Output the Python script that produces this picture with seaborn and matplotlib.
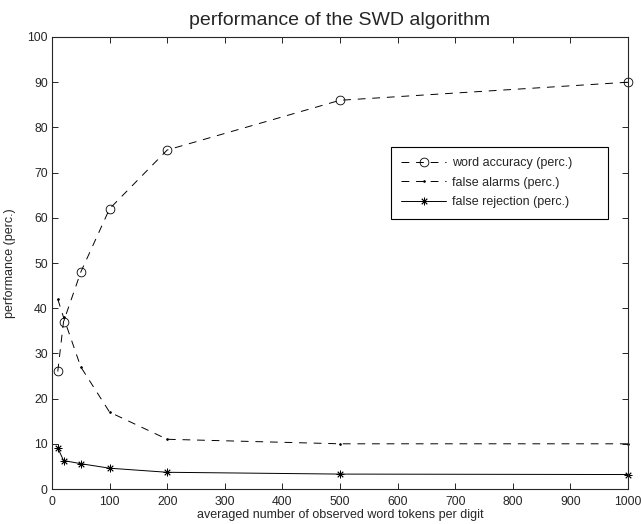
import pandas as pd
import seaborn as sns
import matplotlib.pyplot as plt

tokens = [10, 20, 50, 100, 200, 500, 1000]
word_accuracy = [26, 37, 48, 62, 75, 86, 90]
false_alarms = [42, 38, 27, 17, 11, 10, 10]
false_rejection = [9.1, 6.3, 5.6, 4.6, 3.7, 3.3, 3.2]

sns.set_style("ticks")
plt.rcParams['font.family'] = ['Liberation Sans', 'DejaVu Sans']

df = pd.DataFrame({
    'tokens': tokens * 3,
    'value': word_accuracy + false_alarms + false_rejection,
    'series': ['word accuracy (perc.)'] * 7 + ['false alarms (perc.)'] * 7
              + ['false rejection (perc.)'] * 7,
})

fig = plt.figure(figsize=(6.41, 5.24), dpi=100)
# axes box in pixels: left 52, right 628, top 37, bottom 489
ax = fig.add_axes([52 / 641, 35 / 524, 576 / 641, 452 / 524])

styles = {
    'word accuracy (perc.)': dict(ls=(0, (8, 7)), marker='o', ms=6.3, mfc='none'),
    'false alarms (perc.)': dict(ls=(0, (8, 7)), marker='.', ms=2.5),
    'false rejection (perc.)': dict(ls='-', marker=(8, 2, 0), ms=5.5),
}
for name, st in styles.items():
    sub = df[df.series == name]
    sns.lineplot(data=sub, x='tokens', y='value', ax=ax, color='black',
                 lw=0.7, linestyle=st['ls'], marker=st['marker'],
                 markersize=st['ms'], markerfacecolor=st.get('mfc', 'black'),
                 markeredgecolor='black', markeredgewidth=0.6, label=name,
                 clip_on=False)

ax.set_xlim(0, 1000)
ax.set_ylim(0, 100)
ax.set_xticks(range(0, 1001, 100))
ax.set_yticks(range(0, 101, 10))
ax.tick_params(direction='in', top=True, right=True, labelsize=8.8,
               length=4.5, width=0.7, pad=3)
ax.tick_params(axis='x', pad=5)
for s in ax.spines.values():
    s.set_visible(True)
    s.set_linewidth(0.8)

ax.set_title('performance of the SWD algorithm', fontsize=14, pad=8.5)
ax.set_xlabel('averaged number of observed word tokens per digit', fontsize=9, labelpad=0.5)
ax.set_ylabel('performance (perc.)', fontsize=9, labelpad=8)

# legend box: x 391..608, y 147..220 (pixels)
leg = ax.legend(loc='upper left', bbox_to_anchor=(339 / 576, 342 / 452, 217 / 576, 0),
                mode='expand', borderaxespad=0, fontsize=9, frameon=True,
                fancybox=False, edgecolor='black', framealpha=1,
                handlelength=3.6, handletextpad=0.5, borderpad=0.8,
                labelspacing=0.62)
leg.get_frame().set_linewidth(0.8)

fig.savefig('out.png', dpi=100)
